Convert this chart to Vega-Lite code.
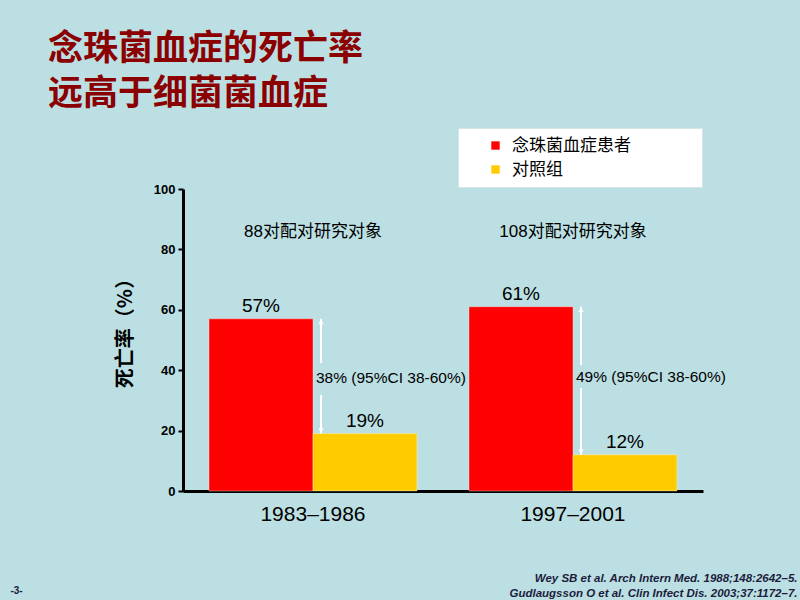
{
  "$schema": "https://vega.github.io/schema/vega-lite/v6.json",
  "autosize": {"type": "none"},
  "width": 520,
  "height": 302,
  "padding": {"left": 183, "top": 189, "right": 97, "bottom": 109},
  "background": "#BBDFE3",
  "title": {
    "text": ["念珠菌血症的死亡率", "远高于细菌菌血症"],
    "anchor": "start",
    "frame": "group",
    "font": "Noto Sans CJK SC",
    "fontSize": 35,
    "fontWeight": "bold",
    "color": "#8B0000",
    "lineHeight": 45,
    "dx": -135,
    "dy": 4,
    "offset": 20
  },
  "config": {
    "view": {"stroke": null},
    "axis": {"grid": false}
  },
  "datasets": {
    "bars": [
      {"period": "1983–1986", "group": "念珠菌血症患者", "rate": 57, "label": "57%"},
      {"period": "1983–1986", "group": "对照组", "rate": 19, "label": "19%"},
      {"period": "1997–2001", "group": "念珠菌血症患者", "rate": 61, "label": "61%"},
      {"period": "1997–2001", "group": "对照组", "rate": 12, "label": "12%"}
    ],
    "cohorts": [
      {"period": "1983–1986", "y": 85.6, "text": "88对配对研究对象"},
      {"period": "1997–2001", "y": 85.6, "text": "108对配对研究对象"}
    ],
    "segments": [
      {"period": "1983–1986", "y1": 57, "y2": 42.4},
      {"period": "1983–1986", "y1": 31.8, "y2": 19},
      {"period": "1997–2001", "y1": 61, "y2": 41.7},
      {"period": "1997–2001", "y1": 34.1, "y2": 12}
    ],
    "heads": [
      {"period": "1983–1986", "y": 56, "dir": "up"},
      {"period": "1983–1986", "y": 20, "dir": "down"},
      {"period": "1997–2001", "y": 60, "dir": "up"},
      {"period": "1997–2001", "y": 13, "dir": "down"}
    ],
    "diffs": [
      {"period": "1983–1986", "y": 37.4, "text": "38% (95%CI 38-60%)"},
      {"period": "1997–2001", "y": 37.7, "text": "49% (95%CI 38-60%)"}
    ]
  },
  "resolve": {"axis": {"y": "independent"}},
  "layer": [
    {
      "data": {"name": "bars"},
      "mark": {"type": "bar", "stroke": "#ffffff", "strokeOpacity": 0.35, "strokeWidth": 1},
      "encoding": {
        "x": {
          "field": "period", "type": "nominal",
          "scale": {"paddingInner": 0.2, "paddingOuter": 0.1},
          "axis": {
            "labelAngle": 0,
            "ticks": false,
            "domainColor": "black",
            "domainWidth": 3,
            "labelFont": "Liberation Sans",
            "labelFontSize": 21,
            "labelColor": "black",
            "labelPadding": 12,
            "title": ["Wey SB et al. Arch Intern Med. 1988;148:2642–5.", "Gudlaugsson O et al. Clin Infect Dis. 2003;37:1172–7."],
            "titleFont": "Liberation Sans Narrow, Liberation Sans",
            "titleFontSize": 11.5,
            "titleFontWeight": "bold",
            "titleFontStyle": "italic",
            "titleColor": "#1c1c3c",
            "titleAlign": "right",
            "titleAnchor": null,
            "titleBaseline": "alphabetic",
            "titleLineHeight": 15,
            "titleX": 614,
            "titleY": 90
          }
        },
        "xOffset": {"field": "group", "type": "nominal", "sort": ["念珠菌血症患者", "对照组"], "scale": {"paddingInner": 0, "paddingOuter": 0}},
        "y": {
          "field": "rate", "type": "quantitative",
          "scale": {"domain": [0, 100], "nice": false},
          "axis": {
            "values": [0, 20, 40, 60, 80, 100],
            "domainColor": "black",
            "domainWidth": 3,
            "tickColor": "black",
            "tickWidth": 2,
            "tickSize": 5,
            "labelFont": "Liberation Sans",
            "labelFontWeight": "bold",
            "labelFontSize": 13,
            "labelColor": "black",
            "labelPadding": 3,
            "title": "死亡率（%）",
            "titleFont": "Noto Sans CJK SC",
            "titleFontSize": 20,
            "titleFontWeight": "bold",
            "titleColor": "black",
            "titlePadding": 18,
            "titleY": 139
          }
        },
        "color": {
          "field": "group", "type": "nominal",
          "scale": {"domain": ["念珠菌血症患者", "对照组"], "range": ["#FF0000", "#FFCC00"]},
          "legend": {
            "title": null,
            "orient": "none",
            "legendX": 275,
            "legendY": -61,
            "fillColor": "white",
            "strokeColor": "#d8e4e6",
            "padding": 9,
            "rowPadding": 6,
            "symbolType": "square",
            "symbolSize": 70,
            "symbolStrokeWidth": 0,
            "symbolOffset": 20,
            "labelOffset": 8,
            "labelFont": "Noto Sans CJK SC",
            "labelFontSize": 17,
            "labelColor": "black",
            "labelLimit": 400,
            "labelExpr": "datum.label + '\u00a0\u00a0\u00a0\u00a0\u00a0\u00a0\u00a0\u00a0\u00a0\u00a0\u00a0\u00a0\u00a0\u2800'"
          }
        }
      }
    },
    {
      "data": {"name": "bars"},
      "mark": {"type": "text", "font": "Liberation Sans", "fontSize": 19, "color": "black", "baseline": "alphabetic", "dy": -7},
      "encoding": {
        "x": {"field": "period", "type": "nominal"},
        "xOffset": {"field": "group", "type": "nominal", "sort": ["念珠菌血症患者", "对照组"]},
        "y": {"field": "rate", "type": "quantitative", "axis": null},
        "text": {"field": "label"}
      }
    },
    {
      "data": {"name": "cohorts"},
      "mark": {"type": "text", "font": "Liberation Sans, Noto Sans CJK SC", "fontSize": 17, "color": "black", "baseline": "middle"},
      "encoding": {
        "x": {"field": "period", "type": "nominal"},
        "y": {"field": "y", "type": "quantitative", "axis": null},
        "text": {"field": "text"}
      }
    },
    {
      "data": {"name": "segments"},
      "mark": {"type": "rule", "color": "white", "strokeWidth": 2, "xOffset": 8},
      "encoding": {
        "x": {"field": "period", "type": "nominal"},
        "y": {"field": "y1", "type": "quantitative", "axis": null},
        "y2": {"field": "y2"}
      }
    },
    {
      "data": {"name": "heads"},
      "mark": {"type": "point", "filled": true, "color": "white", "size": 28, "opacity": 1, "xOffset": 8},
      "encoding": {
        "x": {"field": "period", "type": "nominal"},
        "y": {"field": "y", "type": "quantitative", "axis": null},
        "shape": {"field": "dir", "type": "nominal", "scale": {"domain": ["up", "down"], "range": ["triangle-up", "triangle-down"]}, "legend": null}
      }
    },
    {
      "data": {"name": "diffs"},
      "mark": {"type": "text", "font": "Liberation Sans", "fontSize": 15.5, "color": "black", "align": "left", "baseline": "middle", "dx": 3},
      "encoding": {
        "x": {"field": "period", "type": "nominal"},
        "y": {
          "field": "y", "type": "quantitative",
          "axis": {
            "orient": "right",
            "domain": false,
            "ticks": false,
            "labels": false,
            "title": "-3-",
            "titleAngle": 0,
            "titleFont": "Liberation Sans Narrow, Liberation Sans",
            "titleFontSize": 10,
            "titleFontWeight": "bold",
            "titleColor": "#1c1c3c",
            "titleAlign": "center",
            "titleBaseline": "middle",
            "titleX": -687,
            "titleY": 401
          }
        },
        "text": {"field": "text"}
      }
    }
  ]
}
